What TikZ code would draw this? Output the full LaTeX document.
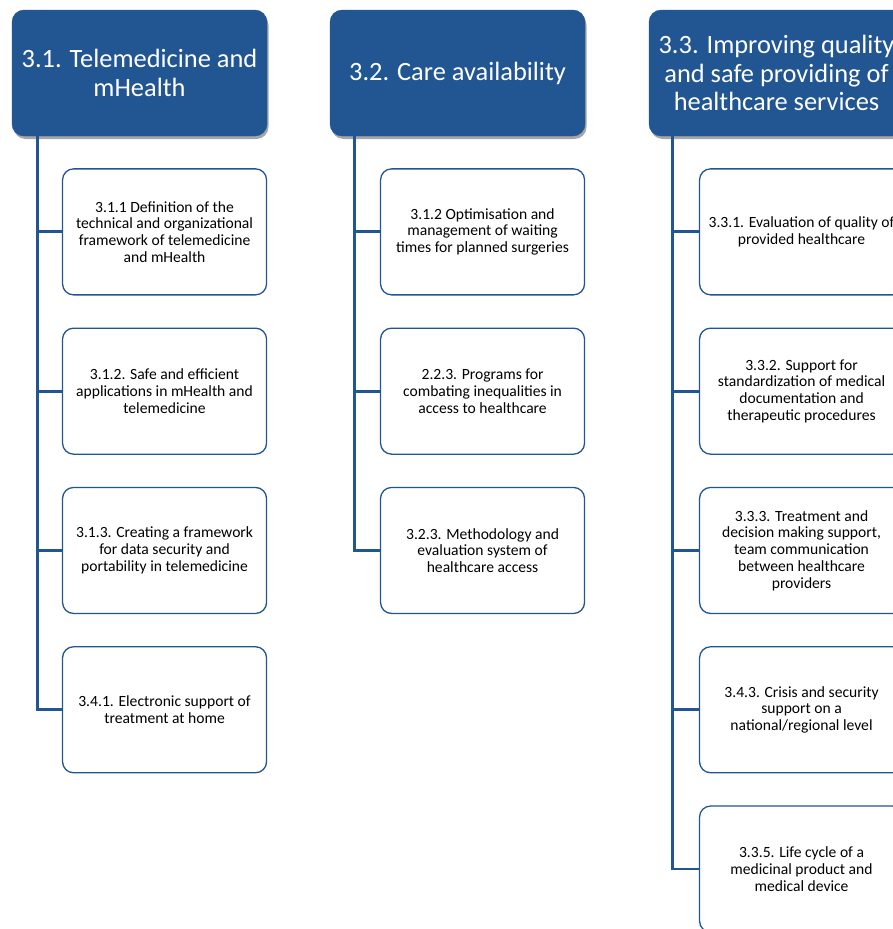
\documentclass[tikz,border=0pt]{standalone}
\usepackage{fontspec}
\setmainfont{Carlito}
\usetikzlibrary{positioning,shadows}
\definecolor{darkblue}{RGB}{33,86,146}
\tikzset{head/.style = {draw=darkblue, fill=darkblue, rounded corners=12pt, minimum width=255pt, minimum height=126pt,
                        align=center, text=white, inner sep=2pt, font=\fontsize{26.4}{28.6}\selectfont,
                        drop shadow={shadow xshift=1.5pt, shadow yshift=-3pt, opacity=.35, fill=black}},
         block/.style = {draw=darkblue, line width=1.3pt, fill=white, rounded corners=11pt, minimum width=204pt,
                         minimum height=126pt, align=center, inner sep=2pt, font=\fontsize{15.6}{16.8}\selectfont},
         link/.style = {draw=darkblue, line width=2.8pt},
}

\begin{document}
\begin{tikzpicture}[x=1pt, y=-1pt, node distance = 32pt]
  \useasboundingbox (0,0) rectangle (893,929);
  \clip (0,0) rectangle (893,929);
  \fill[white] (0,0) rectangle (893,929);

  % top level
  \node[head] (HEAD1) at (139.5,73) {3.1. Telemedicine and\\mHealth};
  \node[head] (HEAD2) at (457.5,73) {3.2. Care availability};
  \node[head] (HEAD3) at (776.5,73) {3.3. Improving quality\\and safe providing of\\healthcare services};

  % column 1
  \node[block, below = of HEAD1.south east, anchor = north east] (SUB11) {3.1.1 Definition of the\\technical and organizational\\framework of telemedicine\\and mHealth};
  \node[block, below = of SUB11] (SUB12) {3.1.2. Safe and efficient\\applications in mHealth and\\telemedicine};
  \node[block, below = of SUB12] (SUB13) {3.1.3. Creating a framework\\for data security and\\portability in telemedicine};
  \node[block, below = of SUB13] (SUB14) {3.4.1. Electronic support of\\treatment at home};

  % column 2
  \node[block, below = of HEAD2.south east, anchor = north east] (SUB21) {3.1.2 Optimisation and\\management of waiting\\times for planned surgeries};
  \node[block, below = of SUB21] (SUB22) {2.2.3. Programs for\\combating inequalities in\\access to healthcare};
  \node[block, below = of SUB22] (SUB23) {3.2.3. Methodology and\\evaluation system of\\healthcare access};

  % column 3
  \node[block, below = of HEAD3.south east, anchor = north east] (SUB31) {3.3.1. Evaluation of quality of\\provided healthcare};
  \node[block, below = of SUB31] (SUB32) {3.3.2. Support for\\standardization of medical\\documentation and\\therapeutic procedures};
  \node[block, below = of SUB32] (SUB33) {3.3.3. Treatment and\\decision making support,\\team communication\\between healthcare\\providers};
  \node[block, below = of SUB33] (SUB34) {3.4.3. Crisis and security\\support on a\\national/regional level};
  \node[block, below = of SUB34] (SUB35) {3.3.5. Life cycle of a\\medicinal product and\\medical device};

  \draw[link] ([xshift=26pt]HEAD1.south west) |- (SUB11.west);
  \draw[link] ([xshift=26pt]HEAD1.south west) |- (SUB12.west);
  \draw[link] ([xshift=26pt]HEAD1.south west) |- (SUB13.west);
  \draw[link] ([xshift=26pt]HEAD1.south west) |- (SUB14.west);

  \draw[link] ([xshift=25pt]HEAD2.south west) |- (SUB21.west);
  \draw[link] ([xshift=25pt]HEAD2.south west) |- (SUB22.west);
  \draw[link] ([xshift=25pt]HEAD2.south west) |- (SUB23.west);

  \draw[link] ([xshift=24pt]HEAD3.south west) |- (SUB31.west);
  \draw[link] ([xshift=24pt]HEAD3.south west) |- (SUB32.west);
  \draw[link] ([xshift=24pt]HEAD3.south west) |- (SUB33.west);
  \draw[link] ([xshift=24pt]HEAD3.south west) |- (SUB34.west);
  \draw[link] ([xshift=24pt]HEAD3.south west) |- (SUB35.west);

\end{tikzpicture}
\end{document}
